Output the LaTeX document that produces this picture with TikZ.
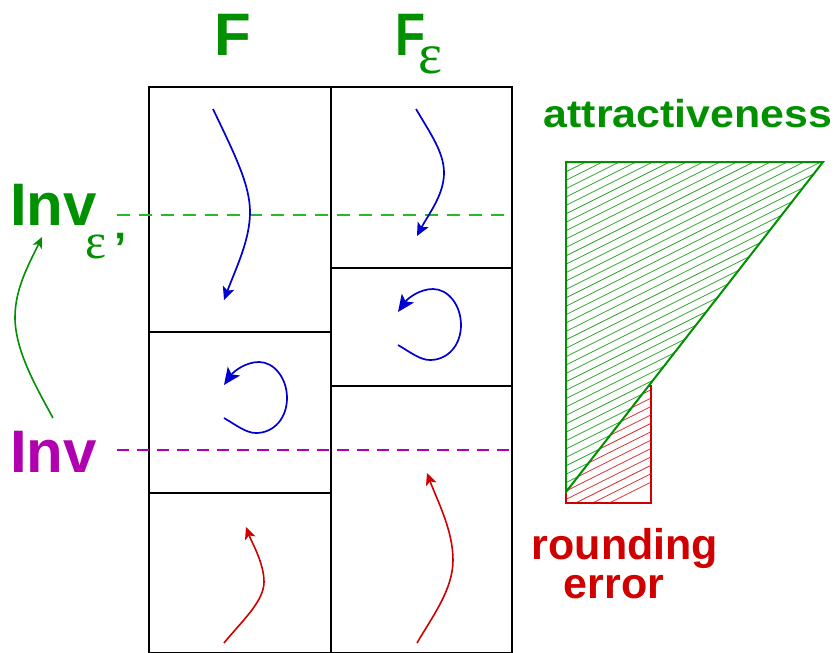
\documentclass[tikz,border=0pt]{standalone}
\usepackage{fontspec}
\setmainfont{Liberation Sans}
\newfontfamily\serifgr{Liberation Serif}
\usetikzlibrary{arrows.meta}
\definecolor{xgreen}{RGB}{0,144,0}
\definecolor{xdash}{RGB}{40,185,40}
\definecolor{xmag}{RGB}{176,0,176}
\definecolor{xred}{RGB}{208,0,0}
\definecolor{xblue}{RGB}{0,0,208}
\begin{document}
\begin{tikzpicture}[x=1pt,y=-1pt,
  cell/.style={draw=black,line width=2pt},
  flowb/.style={xblue,line width=1.7pt,-{Stealth[length=13pt,width=12pt,inset=3pt]}},
  loopb/.style={xblue,line width=1.7pt,-{Stealth[length=17pt,width=15pt,inset=4pt]}},
  flowr/.style={xred,line width=1.6pt,-{Stealth[length=12pt,width=11pt,inset=3pt]}},
  flowg/.style={xgreen,line width=1.6pt,-{Stealth[length=11pt,width=10pt,inset=3pt]}},
  lbl/.style={inner sep=0pt,outer sep=0pt},
  big/.style={lbl,font=\bfseries\fontsize{60}{60}\selectfont},
  mid/.style={lbl,font=\bfseries\fontsize{43}{43}\selectfont},
  hatchg/.style={xgreen!80,line width=0.8pt},
  hatchr/.style={xred!80,line width=0.8pt},
  dashg/.style={xdash,line width=1.8pt,dash pattern=on 13pt off 9pt},
  dashm/.style={xmag,line width=1.8pt,dash pattern=on 12pt off 8pt}]
\useasboundingbox (0,0) rectangle (835,653);

% cells
\draw[cell] (149,87) rectangle (331,332);
\draw[cell] (149,332) rectangle (331,493);
\draw[cell] (149,493) rectangle (331,653);
\draw[cell] (331,87) rectangle (512,268);
\draw[cell] (331,268) rectangle (512,386);
\draw[cell] (331,386) rectangle (512,653);

% dashed levels
\coordinate (gl) at (117,215); \coordinate (gr) at (512,215);
\coordinate (ml) at (117,450); \coordinate (mr) at (512,450);
\draw[dashg] (gl) -- (gr);
\draw[dashm] (ml) -- (mr);

% flows
\draw[flowb] (213,109) .. controls (235,155) and (250,185) .. (250,212)
  .. controls (250,240) and (236,268) .. (224,300);
\draw[flowb] (416,109) .. controls (430,133) and (444,152) .. (444,173)
  .. controls (444,195) and (428,215) .. (417,236);
\draw[loopb] (398,345) .. controls (410,352) and (420,360) .. (430,360)
  .. controls (448,360) and (461,345) .. (461,325)
  .. controls (461,305) and (448,289) .. (433,289)
  .. controls (420,289) and (408,298) .. (398,312);
\draw[loopb] (224,418) .. controls (236,425) and (246,433) .. (256,433)
  .. controls (274,433) and (287,418) .. (287,398)
  .. controls (287,378) and (274,362) .. (259,362)
  .. controls (246,362) and (234,371) .. (224,385);
\draw[flowr] (224,643) .. controls (240,623) and (264,602) .. (264,582)
  .. controls (264,563) and (252,543) .. (246,527);
\draw[flowr] (417,643) .. controls (432,617) and (453,590) .. (453,560)
  .. controls (453,530) and (437,500) .. (427,473);

% red rectangle (rounding error)
\fill[white] (566,386) rectangle (651,503);
\begin{scope}
  \clip (566,386) rectangle (651,503);
  \foreach \k in {24,...,44} \draw[hatchr] (556,{160+8.4*\k}) -- ++(340,-170);
\end{scope}
\draw[xred,line width=2pt] (566,386) rectangle (651,503);

% green triangle (attractiveness)
\fill[white] (566,162) -- (823,162) -- (566,492) -- cycle;
\begin{scope}
  \clip (566,162) -- (823,162) -- (566,492) -- cycle;
  \foreach \k in {0,...,42} \draw[hatchg] (556,{160+8.4*\k}) -- ++(340,-170);
\end{scope}
\draw[xgreen,line width=2pt,line join=miter] (566,162) -- (823,162) -- (566,492) -- cycle;

% labels
\node[big,text=xgreen,anchor=base] (tF) at (233,55) {F};
\node[big,text=xgreen,anchor=base] (tFe) at (410.5,55) {\scalebox{0.82}[1]{F}};
\node[lbl,text=xgreen,anchor=base,font=\serifgr\fontsize{57}{57}\selectfont] (eps1) at (430.5,73) {ε};

\node[big,text=xgreen,anchor=base west] (invE) at (10.2,225) {Inv};
\node[lbl,text=xgreen,anchor=base,font=\serifgr\fontsize{50}{50}\selectfont] (epsE) at (96,258) {ε};
\node[lbl,text=xgreen,anchor=base,font=\bfseries\fontsize{44}{44}\selectfont] (primeE) at (121,263) {’};

\node[big,text=xmag,anchor=base west] (inv) at (10.2,472.7) {Inv};

\node[lbl,text=xgreen,anchor=base,font=\bfseries\fontsize{39}{39}\selectfont] (attr) at (688,127.3) {\scalebox{1.1}[1]{attractiveness}};
\node[mid,text=xred,anchor=base] (round1) at (625,559) {rounding};
\node[mid,text=xred,anchor=base] (round2) at (614,598) {error};

% connector Inv -> Inv_eps'
\coordinate (gs) at (53,418);
\coordinate (ge) at (42,237);
\draw[flowg] (gs) .. controls (35,385) and (15,350) .. (15,317)
  .. controls (15,288) and (30,262) .. (ge);
\end{tikzpicture}
\end{document}
